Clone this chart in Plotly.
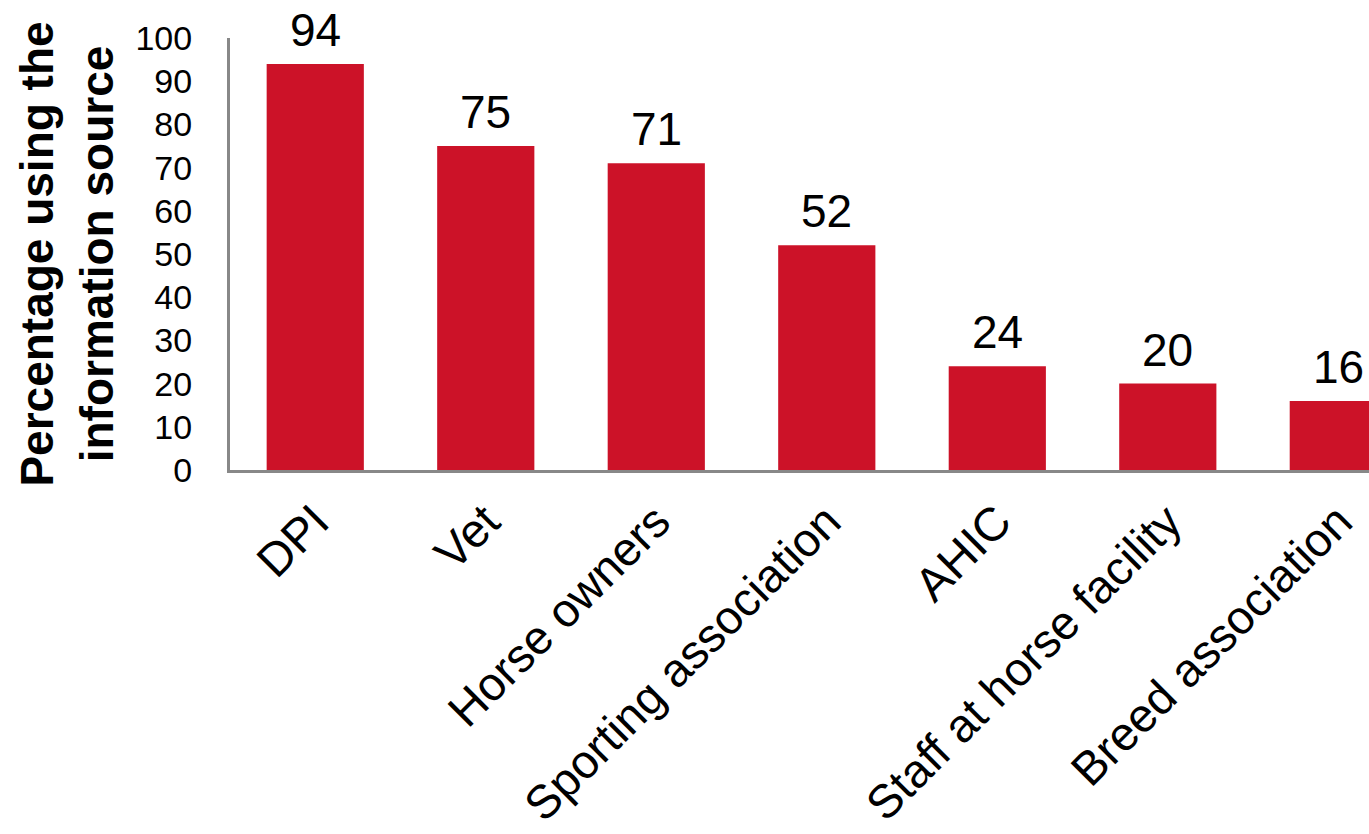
import plotly.graph_objects as go

sources = ["DPI", "Vet", "Horse owners", "Sporting association", "AHIC",
           "Staff at horse facility", "Breed association"]
percentages = [94, 75, 71, 52, 24, 20, 16]
y_ticks = [0, 10, 20, 30, 40, 50, 60, 70, 80, 90, 100]

bar_color = "#CC1228"
axis_color = "#888888"
font_family = "Liberation Sans, Arial, sans-serif"

fig = go.Figure(
    go.Bar(
        x=list(range(len(sources))),
        y=percentages,
        width=0.57,
        marker=dict(color=bar_color, line=dict(width=0)),
        hoverinfo="skip",
    )
)

# value labels above each bar
for i, v in enumerate(percentages):
    fig.add_annotation(
        x=i, y=v, text=str(v), showarrow=False,
        xanchor="center", yanchor="bottom", yshift=6,
        font=dict(size=46, color="#000000", family=font_family),
    )

fig.update_layout(
    width=1369, height=834,
    margin=dict(l=230, r=0, t=38, b=364),
    plot_bgcolor="white", paper_bgcolor="white",
    showlegend=False,
    font=dict(family=font_family, color="#000000"),
    xaxis=dict(
        tickmode="array",
        tickvals=list(range(len(sources))),
        ticktext=sources,
        range=[-0.5, 6.18],
        tickangle=-45,
        tickfont=dict(size=47, family=font_family, color="#000000"),
        showline=True, linecolor=axis_color, linewidth=3,
        showgrid=False, zeroline=False, ticks="",
        ticklabelstandoff=2,
        automargin=False,
    ),
    yaxis=dict(
        range=[0, 100],
        tickmode="array",
        tickvals=y_ticks,
        tickfont=dict(size=34, family=font_family, color="#000000"),
        showline=True, linecolor=axis_color, linewidth=3,
        showgrid=False, zeroline=False, ticks="",
        ticklabelstandoff=28,
        automargin=False,
        title=dict(
            text="<b>Percentage using the<br>information source</b>",
            font=dict(size=46, family=font_family, color="#000000"),
            standoff=8,
        ),
    ),
)

fig.write_html("out.html")
